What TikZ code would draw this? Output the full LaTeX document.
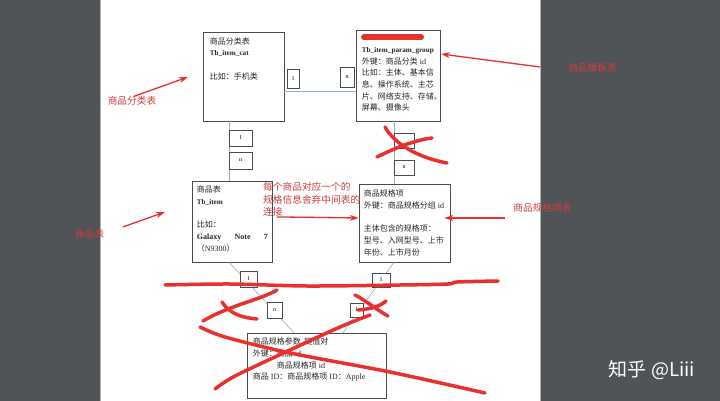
\documentclass[tikz,border=0pt]{standalone}
\usepackage{fontspec}
\setmainfont{Liberation Serif}
\newfontfamily\cjk{Noto Sans CJK SC}
\usetikzlibrary{arrows.meta}

\definecolor{viewer}{RGB}{80,83,87}
\definecolor{linkblue}{RGB}{140,175,210}
\definecolor{redpen}{RGB}{232,48,46}
\definecolor{notered}{RGB}{205,62,62}

\newcommand{\zh}[1]{{\cjk #1}}
\newcommand{\tname}[1]{{\fontsize{7.2}{11.7}\selectfont\bfseries #1}}

\tikzset{
  tbl/.style={draw=black!70, line width=0.6pt, fill=white, inner sep=0pt},
  tagbox/.style={draw=black!70, line width=0.5pt, fill=white, inner sep=0pt, font=\fontsize{6}{6}\selectfont},
  link/.style={linkblue, line width=0.6pt},
  body/.style={anchor=north west, align=left, inner sep=0pt, font=\fontsize{8}{11.7}\selectfont, text=black!85},
  remark/.style={text=notered, font=\cjk\fontsize{9.7}{12.5}\selectfont, inner sep=0pt},
  pointer/.style={redpen, line width=1.3pt, -{Stealth[length=9pt,width=6pt]}},
  scrawl/.style={redpen, line width=3.5pt, line cap=round, line join=round},
}

\begin{document}
\begin{tikzpicture}[x=1pt, y=-1pt]
  % viewer and page
  \useasboundingbox (0,0) rectangle (720,401);
  \fill[viewer] (0,0) rectangle (720,401);
  \filldraw[fill=white, draw=black!30] (100,-2) rectangle (540,403);

  % tables
  \node[tbl, minimum width=81pt, minimum height=89pt] (cat) at (243.5,76.5) {};
  \node[tbl, minimum width=84pt, minimum height=91pt] (grp) at (398,75.5) {};
  \node[tbl, minimum width=80pt, minimum height=81pt] (item) at (232,221.5) {};
  \node[tbl, minimum width=91pt, minimum height=78pt] (param) at (404.5,223) {};
  \node[tbl, minimum width=139pt, minimum height=65pt] (kv) at (316.5,365.5) {};

  % links between the tables
  \draw[link] ([yshift=-14.5pt]cat.east) -- ([yshift=-15.5pt]grp.west);
  \draw[link] ([xshift=-14.5pt]cat.south) -- ([xshift=-14.5pt]cat.south |- item.north);
  \draw[link] ([xshift=-4pt]grp.south) -- ([xshift=-4pt]grp.south |- param.north);
  \draw[link] ([xshift=-3pt]item.south) -- ([xshift=-22.5pt]kv.north);
  \draw[link] ([xshift=-10.5pt]param.south) -- ([xshift=26.5pt]kv.north);

  % 1 / n tags
  \node[tagbox, minimum width=12pt, minimum height=19pt] (t1) at (293,78.5) {1};
  \node[tagbox, minimum width=14pt, minimum height=20pt] (t2) at (347,77) {n};
  \node[tagbox, minimum width=23pt, minimum height=16pt] (t3) at (240.5,138) {1};
  \node[tagbox, minimum width=23pt, minimum height=17pt] (t4) at (240.5,160.5) {n};
  \node[tagbox, minimum width=20pt, minimum height=15pt] (t5) at (404,140.5) {};
  \node[tagbox, minimum width=20pt, minimum height=15pt] (t6) at (404,167.5) {n};
  \node[tagbox, minimum width=17pt, minimum height=16pt] (t7) at (248.5,279) {1};
  \node[tagbox, minimum width=15pt, minimum height=16pt] (t8) at (274.5,310) {n};
  \node[tagbox, minimum width=18pt, minimum height=14pt] (t9) at (381,280) {1};
  \node[tagbox, minimum width=13pt, minimum height=14pt] (t10) at (356.5,310) {1};

  % table texts
  \node[body] (catText) at ([xshift=7pt,yshift=-5.5pt]cat.north west)
    {\zh{商品分类表}\\ \tname{Tb\_item\_cat}\\[11.7pt] \zh{比如：手机类}};
  \node[body] (grpText) at ([xshift=6pt,yshift=-4pt]grp.north west)
    {\zh{\phantom{商品规格分组}}\\ \tname{Tb\_item\_param\_group}\\ \zh{外键：商品分类} id\\
     \zh{比如：主体、基本信}\\ \zh{息、操作系统、主芯}\\ \zh{片、网络支持、存储、}\\ \zh{屏幕、摄像头}};
  \node[body] (itemText) at ([xshift=5pt,yshift=-5pt]item.north west)
    {\zh{商品表}\\ \tname{Tb\_item}\\[11.7pt] \zh{比如：}\\
     \makebox[71pt][s]{\textbf{Galaxy}\hfill\textbf{Note}\hfill\textbf{7}}\\ \zh{（}N9300\zh{）}};
  \node[body] (paramText) at ([xshift=5pt,yshift=-6pt]param.north west)
    {\zh{商品规格项}\\ \zh{外键：商品规格分组} id\\[11.7pt] \zh{主体包含的规格项：}\\
     \zh{型号、入网型号、上市}\\ \zh{年份、上市月份}};
  \node[body] (kvText) at ([xshift=6pt,yshift=-5pt]kv.north west)
    {\zh{商品规格参数\ \ 键值对}\\ \zh{外键：商品} id\\ \zh{\phantom{外键：}商品规格项} id\\
     \zh{商品} ID\zh{：商品规格项} ID\zh{：}Apple};

  % red notes
  \node[remark, anchor=north west, align=left] (note) at (263,182.5)
    {每个商品对应一个的\\规格信息舍弃中间表的\\连接};
  \node[remark] (lblCat) at (132,101) {商品分类表};
  \node[remark] (lblItem) at (89.5,234) {商品表};
  \node[remark] (lblGrp) at (592.5,68) {商品模板表};
  \node[remark] (lblParam) at (542.5,208) {商品规格项表};
  \coordinate (catTip) at (188,77);
  \coordinate (itemTip) at (165,212);
  \coordinate (grpTip) at (441,54);

  \draw[pointer] ([xshift=2pt]lblCat.north) -- (catTip);
  \draw[pointer] ([xshift=18.5pt,yshift=7pt]lblItem.east) -- (itemTip);
  \draw[pointer] ([xshift=-28pt,yshift=1pt]lblGrp.west) -- (grpTip);
  \draw[pointer] ([xshift=-8pt,yshift=-10pt]lblParam.west) -- ([xshift=-6pt,yshift=5pt]param.east);
  \draw[pointer] ([xshift=14pt]note.south west) -- ([yshift=5pt]param.west);

  % scribbles
  \draw[scrawl, line width=6pt] (364,37) -- (421,37);
  \draw[scrawl] (385,127) .. controls (395,145) and (420,158) .. (447,163);
  \draw[scrawl] (377,157) .. controls (395,148) and (415,140) .. (432,138);
  \draw[scrawl] plot[smooth] coordinates {(165,285) (230,284) (307,286) (400,285) (448,284) (457,282) (498,281)};
  \draw[scrawl] (203,321) .. controls (230,305) and (260,300) .. (277,290);
  \draw[scrawl] (222,302) .. controls (230,315) and (245,318) .. (257,319);
  \draw[scrawl] plot[smooth] coordinates {(200,327) (225,337) (290,353) (390,372) (485,393)};
  \draw[scrawl] plot[smooth] coordinates {(215,389) (235,376) (290,350) (340,327) (370,315)};
  \draw[scrawl] (355,295) .. controls (365,300) and (380,312) .. (388,316);
  \draw[scrawl] (358,310) .. controls (368,309) and (378,308) .. (386,301);

  % watermark
  \node[text=white, font=\cjk\fontsize{19}{19}\selectfont, inner sep=0pt] (wm) at (652,370) {知乎 @Liii};
\end{tikzpicture}
\end{document}
